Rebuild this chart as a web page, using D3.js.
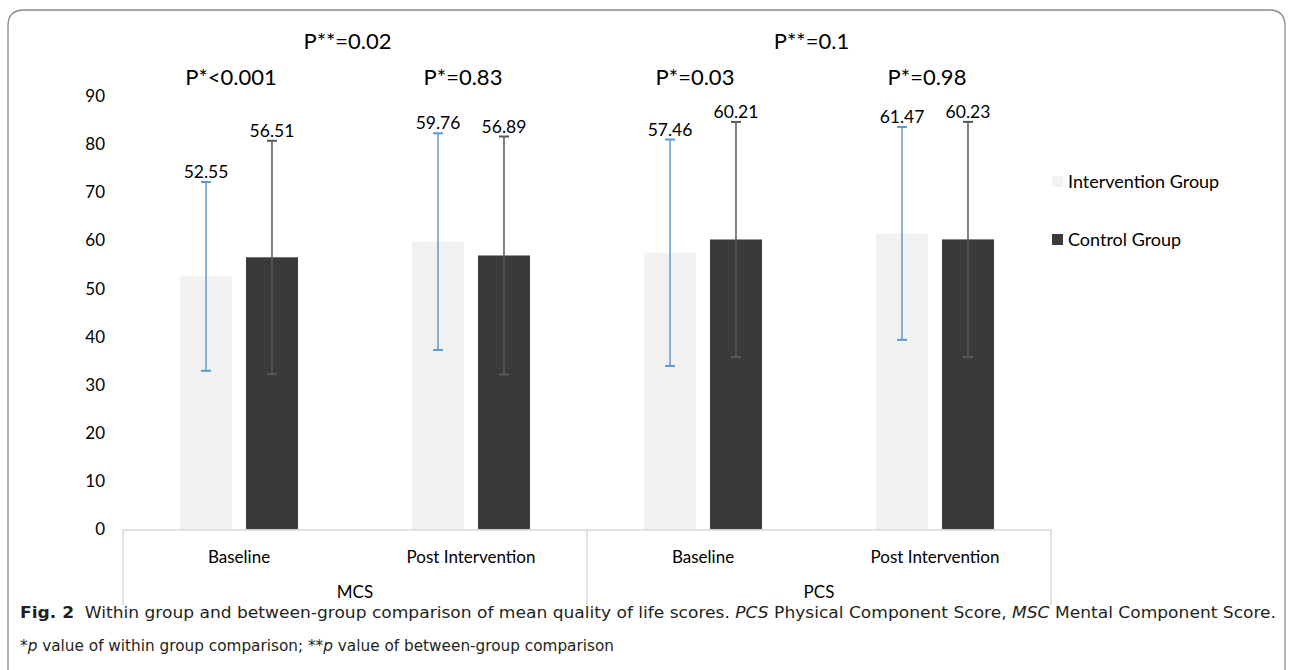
<!DOCTYPE html>
<html>
<head>
<meta charset="utf-8">
<script src="https://cdn.jsdelivr.net/npm/d3@7"></script>
<style>
  html, body { margin: 0; padding: 0; background: #fff; }
  svg { display: block; }
</style>
</head>
<body>
<svg id="chart" width="1293" height="670"></svg>
<script>
// ---------------- data ----------------
const groups = ["MCS", "PCS"];
const phases = ["Baseline", "Post Intervention"];
const seriesNames = ["Intervention Group", "Control Group"];
const interventionMeans = [52.55, 59.76, 57.46, 61.47];
const controlMeans = [56.51, 56.89, 60.21, 60.23];
const interventionSD = [19.6, 22.5, 23.5, 22.1];
const controlSD = [24.2, 24.7, 24.4, 24.4];
const withinP = ["P*<0.001", "P*=0.83", "P*=0.03", "P*=0.98"];
const betweenP = ["P**=0.02", "P**=0.1"];
const yTicks = [0, 10, 20, 30, 40, 50, 60, 70, 80, 90];

// ---------------- build ----------------
const cats = [];
groups.forEach(g => phases.forEach(p => cats.push({ key: g + "|" + p, group: g, phase: p })));
const rows = cats.map((c, i) => ({
  ...c,
  values: [
    { s: seriesNames[0], mean: interventionMeans[i], sd: interventionSD[i] },
    { s: seriesNames[1], mean: controlMeans[i], sd: controlSD[i] }
  ],
  p: withinP[i]
}));

const colors = { "Intervention Group": "#f2f2f2", "Control Group": "#3b3a38" };
const errColors = { "Intervention Group": "#5b9bd5", "Control Group": "#595959" };

const svg = d3.select("#chart");
const font = "Lato, 'Open Sans', sans-serif";

const plotL = 123, plotR = 1051, plotT = 96, plotB = 529.5;

const x0 = d3.scaleBand().domain(cats.map(c => c.key)).range([plotL, plotR]).padding(0);
const x1 = d3.scaleBand().domain(seriesNames).range([0, x0.bandwidth()])
  .paddingInner(0.212).paddingOuter(0.864);
const y = d3.scaleLinear().domain([0, 90]).range([plotB, plotT]);
const xg = d3.scaleBand().domain(groups).range([plotL, plotR]).padding(0);

// frame
svg.append("path")
  .attr("d", "M8,700 L8,26 Q8,10 24,10 L1269,10 Q1285,10 1285,26 L1285,700")
  .attr("fill", "none").attr("stroke", "#8a8a8a").attr("stroke-width", 1.3);

// y axis
const yAxis = svg.append("g").attr("transform", `translate(${plotL},0)`)
  .call(d3.axisLeft(y).tickValues(yTicks).tickSize(0).tickPadding(18));
yAxis.select(".domain").remove();
yAxis.selectAll("text").attr("font-family", font).attr("font-size", 17).attr("fill", "#000");

// bars
const cg = svg.append("g").selectAll("g").data(rows).join("g")
  .attr("transform", d => `translate(${x0(d.key)},0)`);

cg.selectAll("rect").data(d => d.values).join("rect")
  .attr("x", d => x1(d.s))
  .attr("y", d => y(d.mean))
  .attr("width", x1.bandwidth())
  .attr("height", d => y(0) - y(d.mean))
  .attr("fill", d => colors[d.s]);

// error bars
const eb = cg.selectAll("g.err").data(d => d.values).join("g").attr("class", "err");
eb.append("line")
  .attr("x1", d => x1(d.s) + x1.bandwidth() / 2)
  .attr("x2", d => x1(d.s) + x1.bandwidth() / 2)
  .attr("y1", d => y(d.mean - d.sd))
  .attr("y2", d => y(d.mean + d.sd))
  .attr("stroke", d => errColors[d.s]).attr("stroke-width", 1.5);
[-1, 1].forEach(dir => {
  eb.append("line")
    .attr("x1", d => x1(d.s) + x1.bandwidth() / 2 - 5)
    .attr("x2", d => x1(d.s) + x1.bandwidth() / 2 + 5)
    .attr("y1", d => y(d.mean + dir * d.sd))
    .attr("y2", d => y(d.mean + dir * d.sd))
    .attr("stroke", d => errColors[d.s]).attr("stroke-width", 2);
});

// data labels
cg.selectAll("text.val").data(d => d.values).join("text").attr("class", "val")
  .attr("x", d => x1(d.s) + x1.bandwidth() / 2)
  .attr("y", d => y(d.mean + d.sd) - 4)
  .attr("text-anchor", "middle")
  .attr("font-family", font).attr("font-size", 17.5).attr("fill", "#000")
  .text(d => d.mean.toFixed(2));

// within-group p labels
svg.append("g").selectAll("text").data(rows).join("text")
  .attr("x", d => x0(d.key) + x0.bandwidth() / 2 - 8)
  .attr("y", 85)
  .attr("text-anchor", "middle")
  .attr("font-family", font).attr("font-size", 22).attr("fill", "#000")
  .text(d => d.p);

// between-group p labels
svg.append("g").selectAll("text").data(groups).join("text")
  .attr("x", d => xg(d) + xg.bandwidth() / 2 - 7.5)
  .attr("y", 49)
  .attr("text-anchor", "middle")
  .attr("font-family", font).attr("font-size", 22).attr("fill", "#000")
  .text((d, i) => betweenP[i]);

// category axis (multi-level)
const lineColor = "#d9d9d9";
const catAxis = svg.append("g").attr("transform", `translate(0,${plotB})`)
  .call(d3.axisBottom(x0).tickSize(0).tickPadding(21).tickFormat(k => k.split("|")[1]));
catAxis.select(".domain").remove();
catAxis.selectAll("text").attr("font-family", font).attr("font-size", 17).attr("fill", "#000");

svg.append("line").attr("x1", plotL).attr("x2", plotR).attr("y1", plotB + 0.5).attr("y2", plotB + 0.5)
  .attr("stroke", lineColor).attr("stroke-width", 1.5);
const bounds = [plotL, xg(groups[1]), plotR];
svg.append("g").selectAll("line").data(bounds).join("line")
  .attr("x1", d => d).attr("x2", d => d)
  .attr("y1", plotB).attr("y2", 605)
  .attr("stroke", lineColor).attr("stroke-width", 1.5);

svg.append("g").selectAll("text").data(groups).join("text")
  .attr("x", d => xg(d) + xg.bandwidth() / 2)
  .attr("y", 598)
  .attr("text-anchor", "middle")
  .attr("font-family", font).attr("font-size", 17).attr("fill", "#000")
  .text(d => d);

// legend
const leg = svg.append("g").selectAll("g").data(seriesNames).join("g")
  .attr("transform", (d, i) => `translate(1052,${176 + i * 58})`);
leg.append("rect").attr("width", 11).attr("height", 11).attr("fill", d => colors[d]);
leg.append("text").attr("x", 16).attr("y", 11.5)
  .attr("font-family", font).attr("font-size", 18).attr("fill", "#000")
  .text(d => d);

// caption
const capFont = "'DejaVu Sans Condensed', 'Liberation Sans Narrow', 'Open Sans', sans-serif";
const c1 = svg.append("text").attr("x", 20).attr("y", 618)
  .attr("font-family", capFont).attr("font-size", 15).attr("fill", "#231f20")
  .attr("textLength", 1256).attr("lengthAdjust", "spacingAndGlyphs");
c1.append("tspan").attr("font-weight", "bold").text("Fig. 2");
c1.append("tspan").text("\u00a0\u00a0Within group and between-group comparison of mean quality of life scores. ");
c1.append("tspan").attr("font-style", "italic").text("PCS");
c1.append("tspan").text(" Physical Component Score, ");
c1.append("tspan").attr("font-style", "italic").text("MSC");
c1.append("tspan").text(" Mental Component Score.");

const c2 = svg.append("text").attr("x", 20).attr("y", 651)
  .attr("font-family", capFont).attr("font-size", 15).attr("fill", "#231f20")
  .attr("textLength", 594).attr("lengthAdjust", "spacingAndGlyphs");
c2.append("tspan").text("*");
c2.append("tspan").attr("font-style", "italic").text("p");
c2.append("tspan").text(" value of within group comparison; **");
c2.append("tspan").attr("font-style", "italic").text("p");
c2.append("tspan").text(" value of between-group comparison");
</script>
</body>
</html>
